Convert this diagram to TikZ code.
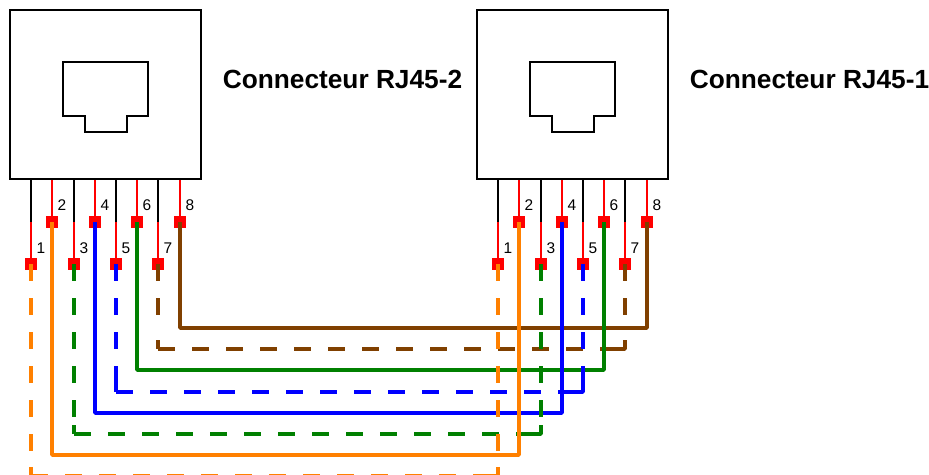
\documentclass[tikz,border=0pt]{standalone}
\usepackage{fontspec}
\setmainfont{Liberation Sans}
\definecolor{wOrange}{HTML}{FF8000}
\definecolor{wGreen}{HTML}{008000}
\definecolor{wBlue}{HTML}{0000FF}
\definecolor{wBrown}{HTML}{804000}
\definecolor{wRed}{HTML}{FF0000}
\tikzset{
  housing/.style={draw=black,line width=1.5pt,minimum width=143.25pt,minimum height=127.1pt,inner sep=0pt,anchor=north west},
  jack/.style={draw=black,line width=1.5pt,line join=miter},
  pad/.style={fill=wRed,draw=none,minimum size=8.5pt,inner sep=0pt},
  pinblack/.style={draw=black,line width=1.5pt},
  pinred/.style={draw=wRed,line width=1.5pt},
  wire/.style={line width=3pt,line join=bevel},
  dashwire/.style={line width=3pt,dash pattern=on 12.75pt off 12.75pt},
  cornerwire/.style={line width=3pt,line join=bevel},
  pinlabel/.style={font=\fontsize{11.6pt}{13pt}\selectfont,inner sep=0pt},
  title/.style={font=\fontsize{19.7pt}{23pt}\selectfont\bfseries,inner sep=0pt}
}
% solid wire: colour, pin, level
\newcommand{\solidwire}[3]{\draw[wire,#1] (l#2.center) -- (l#2.center |- #3) -- (r#2.center |- #3) -- (r#2.center);}
% dashed wire: colour, pin, level, end of last vertical dash
\newcommand{\dashedwire}[4]{%
  \draw[dashwire,#1] (l#2.center) -- (l#2.center |- 0,#4);
  \draw[dashwire,#1] (r#2.center) -- (r#2.center |- 0,#4);
  \draw[cornerwire,#1] ([yshift=6.4pt]l#2.center |- #3) -- (l#2.center |- #3);
  \draw[dashwire,#1] (l#2.center |- #3) -- ([xshift=-6.4pt]r#2.center |- #3);
  \draw[cornerwire,#1] ([yshift=6.4pt]r#2.center |- #3) -- (r#2.center |- #3) -- ([xshift=-6.4pt]r#2.center |- #3);
}
\begin{document}
\begin{tikzpicture}[x=0.75pt,y=-0.75pt]
\path[use as bounding box,clip] (0,0) rectangle (929,475);
\foreach \s/\o/\txt in {l/0/Connecteur RJ45-2,r/467/Connecteur RJ45-1}{
  \begin{scope}[shift={(\o,0)}]
    \node[housing] (\s box) at (9,8.5) {};
    \draw[jack] (63,62) -- (148,62) -- (148,115.5) -- (126.5,115.5) -- (126.5,131.5) -- (84.5,131.5) -- (84.5,115.5) -- (63,115.5) -- cycle;
    \node[title] (\s title) at (342.5,79.5) {\txt};
    \foreach \i/\px/\py/\ly in {1/31/264/248,2/52/222/205,3/74/264/248,4/95/222/205,5/116/264/248,6/137/222/205,7/158/264/248,8/180/222/205}{
      \node[pad] (\s\i) at (\px,\py) {};
      \node[pinlabel] (\s lab\i) at (\px+10,\ly) {\i};
    }
    \foreach \i/\px in {1/31,3/74,5/116,7/158}{
      \coordinate (\s j\i) at (\px,222);
      \draw[pinblack] (\s j\i) -- (\s j\i |- \s box.south);
      \draw[pinred] (\s j\i) -- (\s\i.center);
    }
    \foreach \i in {2,4,6,8}{
      \draw[pinred] (\s\i.center) -- (\s\i.center |- \s box.south);
    }
  \end{scope}
}
\coordinate (y8) at (0,328);
\coordinate (y7) at (0,349);
\coordinate (y6) at (0,370);
\coordinate (y5) at (0,392);
\coordinate (y4) at (0,413);
\coordinate (y3) at (0,434);
\coordinate (y2) at (0,455);
\coordinate (y1) at (0,475.5);
\solidwire{wBrown}{8}{y8}
\dashedwire{wBrown}{7}{y7}{315}
\solidwire{wGreen}{6}{y6}
\dashedwire{wBlue}{5}{y5}{383}
\solidwire{wBlue}{4}{y4}
\dashedwire{wGreen}{3}{y3}{417}
\dashedwire{wOrange}{1}{y1}{451}
\solidwire{wOrange}{2}{y2}
\end{tikzpicture}
\end{document}
